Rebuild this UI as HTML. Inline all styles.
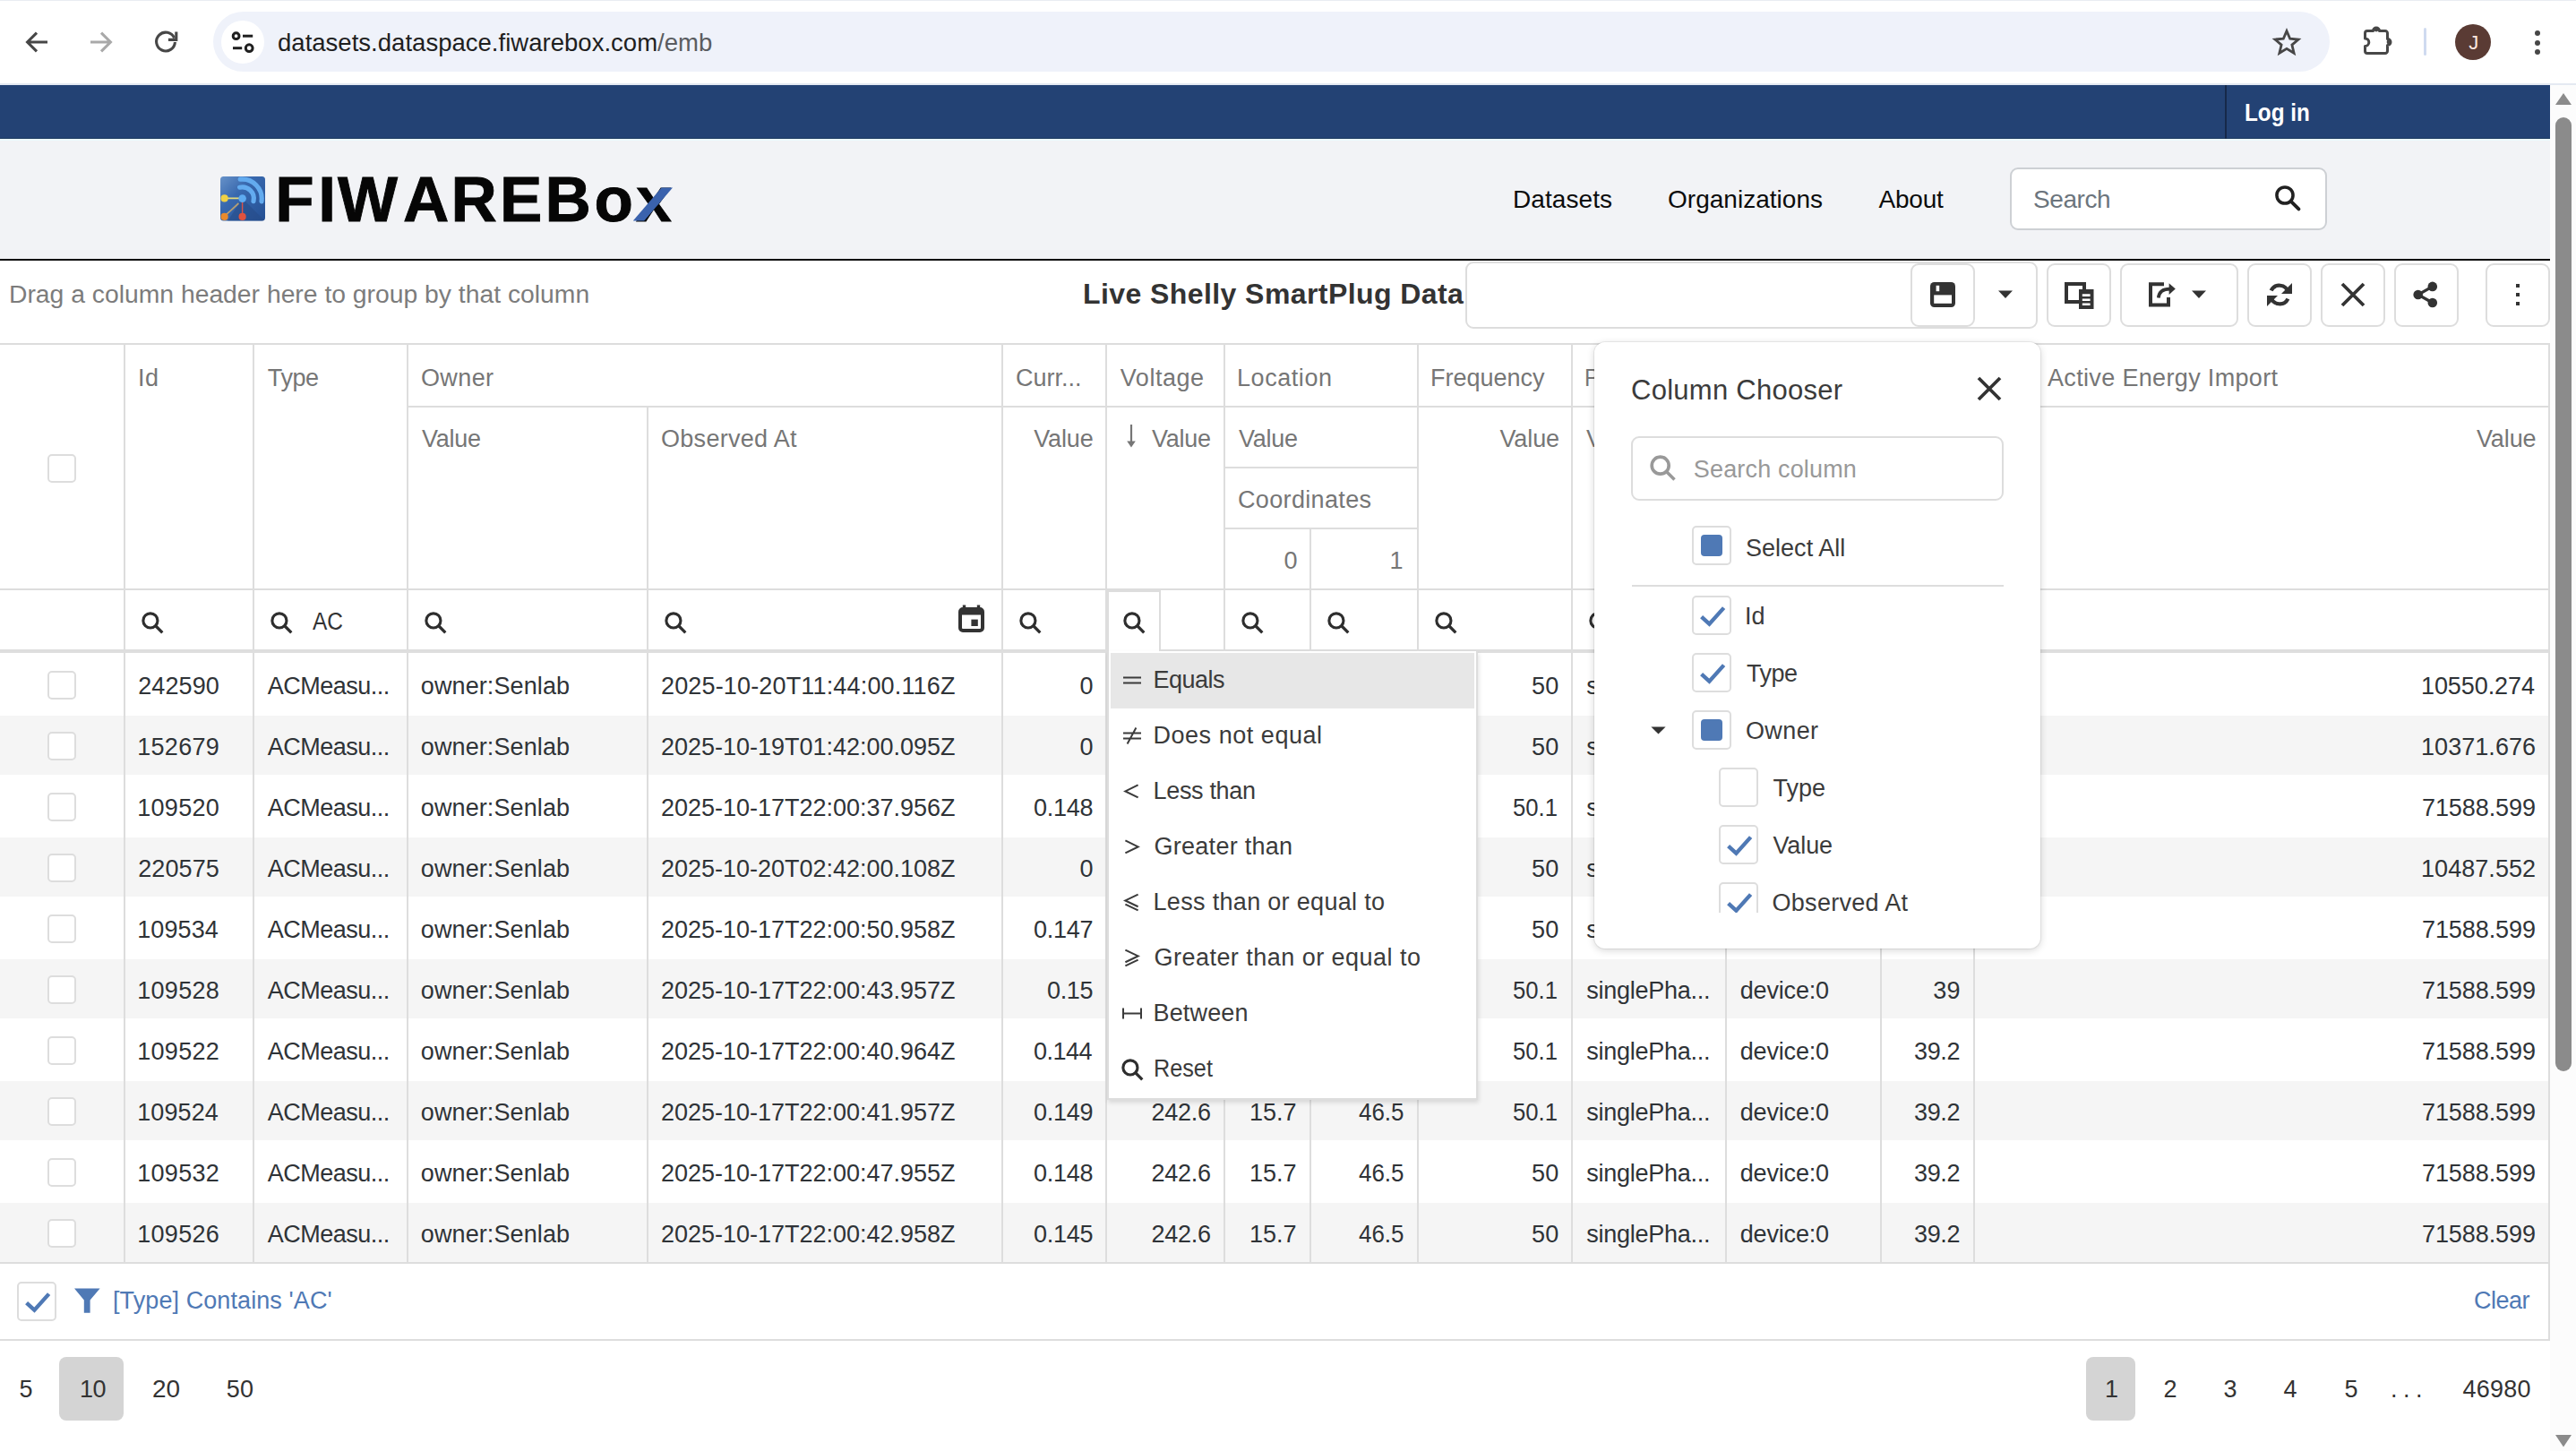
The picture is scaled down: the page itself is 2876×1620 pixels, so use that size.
<!DOCTYPE html>
<html lang="en">
<head>
<meta charset="utf-8">
<title>Live Shelly SmartPlug Data - FIWAREBox Datasets</title>
<style>
html,body{margin:0;padding:0;background:#fff;}
body{width:2876px;height:1620px;overflow:hidden;font-family:"Liberation Sans",sans-serif;}
#screen{position:relative;width:2876px;height:1620px;overflow:hidden;background:#fff;}
#screen div,#screen span,#screen a,#screen b,#screen h1,#screen svg,#screen nav,#screen header,#screen section,#screen label,#screen button,#screen li,#screen ul{position:absolute;box-sizing:border-box;margin:0;padding:0;}
.t{white-space:pre;font-weight:400;text-decoration:none;}
svg{overflow:visible;}
.btn{border:2px solid #ddd;border-radius:9px;background:#fff;}
.cb{border:2px solid #ddd;border-radius:5px;background:#fff;}
.vl{background:#ddd;width:2px;}
.hl{background:#ddd;height:2px;}

</style>
</head>
<body>
<div id="screen">
<!-- browser toolbar -->
<div style="left:0px;top:0px;width:2876px;height:95px;background:#fff;"></div>
<div style="left:0px;top:0px;width:2876px;height:1px;background:#e9ecf2;"></div>
<div style="left:0px;top:93px;width:2876px;height:2px;background:#e4e9f2;"></div>
<svg style="left:26px;top:32px" width="30" height="30" viewBox="0 0 30 30"><path d="M27 15H5.5M15 4.7L4.6 15L15 25.3" fill="none" stroke="#474747" stroke-width="3.1"/></svg>
<svg style="left:98px;top:32px" width="30" height="30" viewBox="0 0 30 30"><path d="M3 15H24.5M15 4.7L25.4 15L15 25.3" fill="none" stroke="#a9a9a9" stroke-width="3.1"/></svg>
<svg style="left:170px;top:32px" width="30" height="30" viewBox="0 0 30 30"><path d="M24.6 10.5A10.4 10.4 0 1 0 25.4 15" fill="none" stroke="#474747" stroke-width="3.1"/><path d="M26.8 3.5V12.4H17.9" fill="none" stroke="#474747" stroke-width="3.1"/></svg>
<div style="left:238px;top:13px;width:2363px;height:67px;background:#eff2fa;border-radius:34px;"></div>
<div style="left:247px;top:23px;width:48px;height:48px;background:#fff;border-radius:24px;"></div>
<svg style="left:255px;top:31px" width="32" height="32" viewBox="0 0 32 32"><g fill="none" stroke="#1f1f1f" stroke-width="3"><circle cx="8.6" cy="9.2" r="3.4"/><path d="M16 9.2H27.2"/><path d="M5 22.7H15.2"/><circle cx="23.2" cy="22.7" r="3.9"/></g></svg>
<span class="t" style="left:310.0px;top:34px;font-size:27.5px;line-height:27.5px;color:#1f1f1f;letter-spacing:0.02px;">datasets.dataspace.fiwarebox.com<span style="position:static;color:#5a5c60">/emb</span></span>
<svg style="left:2537px;top:31px" width="32" height="32" viewBox="0 0 32 32"><path d="M16 3.6l3.7 8.6 9.3.8-7.1 6.1 2.2 9.1L16 23.3 7.9 28.2l2.2-9.1L3 13l9.3-.8z" fill="none" stroke="#474747" stroke-width="2.8" stroke-linejoin="miter"/></svg>
<svg style="left:2637px;top:27px" width="36" height="36" viewBox="0 0 36 36"><path d="M6 7.5H12.5A3.5 3.5 0 0 1 19.5 7.5H26A2.5 2.5 0 0 1 28.5 10V16.5A3.5 3.5 0 0 1 28.5 23.5V30A2.5 2.5 0 0 1 26 32.5H6A2.5 2.5 0 0 1 3.5 30V24.5A4.3 4.3 0 0 0 3.5 15.9V10A2.5 2.5 0 0 1 6 7.5Z" fill="none" stroke="#474747" stroke-width="3" stroke-linejoin="round"/><circle cx="16" cy="6" r="2.4" fill="#474747"/><circle cx="30" cy="20" r="2.4" fill="#474747"/></svg>
<div style="left:2706px;top:31px;width:3px;height:31px;background:#cfdaf0;border-radius:2px;"></div>
<div style="left:2741px;top:27px;width:40px;height:40px;background:#5a3b34;border-radius:20px;"></div>
<span class="t" style="left:2756.3px;top:37px;font-size:22px;line-height:22px;color:#fbe6df;">J</span>
<div style="left:2830px;top:34px;width:6px;height:6px;background:#474747;border-radius:3px;"></div>
<div style="left:2830px;top:44.5px;width:6px;height:6px;background:#474747;border-radius:3px;"></div>
<div style="left:2830px;top:55px;width:6px;height:6px;background:#474747;border-radius:3px;"></div>
<!-- account bar -->
<header style="left:0;top:95px;width:2847px;height:60px;background:#234274;">
<div style="left:0px;top:58.5px;width:2847px;height:1.5px;background:#1c3a5f;"></div>
<div style="left:2484px;top:0px;width:2px;height:60px;background:#16294a;"></div>
<a class="t" style="left:2506.1px;top:17px;font-size:28px;line-height:28px;color:#fff;font-weight:700;transform:scaleX(0.8672);transform-origin:0 0;">Log in</a>
</header>
<!-- masthead -->
<nav style="left:0;top:155px;width:2847px;height:134px;background:#f2f3f6;">
<div style="left:0px;top:0px;width:2847px;height:1.5px;background:#ecfbfe;"></div>
<svg style="left:246px;top:42px" width="50" height="50" viewBox="0 0 50 50">
<defs><linearGradient id="lg" x1="0" y1="0" x2="1" y2="1"><stop offset="0" stop-color="#6792c9"/><stop offset=".38" stop-color="#3868ae"/><stop offset="1" stop-color="#244f93"/></linearGradient>
<clipPath id="lc"><rect width="50" height="49.5" rx="3.5"/></clipPath></defs>
<g clip-path="url(#lc)"><rect width="50" height="50" fill="url(#lg)"/>
<path d="M24.6 24.6L50 50H8Z" fill="#274a86" opacity=".55"/>
<path d="M21.6 12.2A12.8 12.8 0 0 1 37 27.6" fill="none" stroke="#63abef" stroke-width="5.2" stroke-linecap="round"/>
<path d="M22.2 3.2A21.8 21.8 0 0 1 46 27.8" fill="none" stroke="#63abef" stroke-width="5.2" stroke-linecap="round"/>
<path d="M4.3 24.4H22" stroke="#e6dc7c" stroke-width="1.7"/>
<path d="M4.3 44.7L20.4 30" stroke="#b79f73" stroke-width="1.7"/>
<path d="M24.6 28V44" stroke="#d9534a" stroke-width="1.4"/>
<circle cx="24.6" cy="24.6" r="4.3" fill="#5eaaf0"/>
<circle cx="4.6" cy="24.4" r="4.1" fill="#f0d145"/>
<circle cx="4.6" cy="44.9" r="4.1" fill="#e98a2c"/>
<circle cx="24.6" cy="44.9" r="4.1" fill="#e0523f"/></g></svg>
<svg style="left:300px;top:30px" width="470" height="80" viewBox="300 185 470 80">
<text x="307.2 355.3 377 450 503.5 558 608.5 663.6 710.2" y="246.6" font-family="Liberation Sans, sans-serif" font-weight="700" font-size="71" fill="#060606" stroke="#060606" stroke-width="0.9">FIWAREBox</text>
<path d="M706.8 246.6L738.6 209.4H751L719.2 246.6Z" fill="#3a62ad"/></svg>
<a class="t" style="left:1689.0px;top:54px;font-size:28px;line-height:28px;color:#0c0c0c;letter-spacing:0.07px;">Datasets</a>
<a class="t" style="left:1862.0px;top:54px;font-size:28px;line-height:28px;color:#0c0c0c;letter-spacing:0.02px;">Organizations</a>
<a class="t" style="left:2097.5px;top:54px;font-size:28px;line-height:28px;color:#0c0c0c;letter-spacing:-0.22px;">About</a>
<div style="left:2244px;top:32px;width:354px;height:70px;background:#fff;border:2px solid #cdd0d4;border-radius:9px;"></div>
<span class="t" style="left:2270.0px;top:54px;font-size:28px;line-height:28px;color:#6c757d;letter-spacing:-0.43px;">Search</span>
<svg style="left:2538px;top:50px" width="32" height="32" viewBox="0 0 36 36"><circle cx="14.6" cy="14.6" r="10.2" fill="none" stroke="#212121" stroke-width="4"/><path d="M22 22L32 32" stroke="#212121" stroke-width="4.4" stroke-linecap="round"/></svg>
</nav>
<div style="left:0px;top:289px;width:2847px;height:2px;background:#0a0a0a;"></div>
<div style="left:2847px;top:95px;width:29px;height:1525px;background:#fcfcfc;"></div>
<svg style="left:2847px;top:95px" width="29" height="1525" viewBox="0 0 29 1525"><path d="M6 22L15 9L24 22Z" fill="#8b8b8b"/><rect x="6" y="36" width="18" height="1065" rx="9" fill="#8b8b8b"/><path d="M6 1507L24 1507L15 1520.5Z" fill="#8b8b8b"/></svg>
<!-- grid toolbar -->
<section style="left:0;top:291px;width:2847px;height:92px;background:#fff;">
<span class="t" style="left:9.9px;top:25px;font-size:27px;line-height:27px;color:#7c7c7c;transform:scaleX(1.0482);transform-origin:0 0;">Drag a column header here to group by that column</span>
<h1 class="t" style="left:1209.0px;top:21px;font-size:32px;line-height:32px;color:#333;font-weight:700;letter-spacing:0.42px;">Live Shelly SmartPlug Data</h1>
<div style="left:1636px;top:1px;width:639px;height:75px;border:2px solid #ddd;border-radius:9px;background:#fff;"></div>
<div class="btn" style="left:2133px;top:3px;width:72px;height:71px;"></div>
<svg style="left:2155px;top:24px" width="28" height="28" viewBox="0 0 28 28"><rect x="0" y="0" width="28" height="28" rx="4.5" fill="#333"/><rect x="4.2" y="14.4" width="19.8" height="9.4" fill="#fff"/><rect x="6.6" y="3.8" width="3.6" height="6.4" fill="#fff"/></svg>
<svg style="left:2230px;top:33px" width="18" height="10" viewBox="0 0 18 10"><path d="M1 0.6H17L9 9Z" fill="#333"/></svg>
<div class="btn" style="left:2285px;top:3px;width:72px;height:71px;"></div>
<svg style="left:2305px;top:24px" width="33" height="31" viewBox="0 0 33 31"><path d="M2 2H22V22H2Z" fill="none" stroke="#333" stroke-width="4"/><rect x="16" y="8" width="16.5" height="22" fill="#333"/><path d="M19.8 14.6H28.6M19.8 19.7H28.6M19.8 24.8H28.6" stroke="#fff" stroke-width="2.6"/></svg>
<div class="btn" style="left:2367px;top:3px;width:132px;height:71px;"></div>
<svg style="left:2397px;top:24px" width="34" height="30" viewBox="0 0 34 30"><path d="M19 2.2H4V25.6H24V17" fill="none" stroke="#333" stroke-width="4"/><path d="M12.8 17.5C13.4 10.6 18.4 7.6 25.6 7.6" fill="none" stroke="#333" stroke-width="3.6"/><path d="M24.6 1.2L31.8 7.6L24.6 14Z" fill="#333"/></svg>
<svg style="left:2446px;top:33px" width="18" height="10" viewBox="0 0 18 10"><path d="M1 0.6H17L9 9Z" fill="#333"/></svg>
<div class="btn" style="left:2509px;top:3px;width:72px;height:71px;"></div>
<svg style="left:2531px;top:24px" width="28" height="28" viewBox="0 0 28 28"><path d="M23.6 11.2A10.2 10.2 0 0 0 4.6 9.4" fill="none" stroke="#333" stroke-width="4.2"/><path d="M4.4 16.8A10.2 10.2 0 0 0 23.4 18.6" fill="none" stroke="#333" stroke-width="4.2"/><path d="M28 1V13H16Z" fill="#333"/><path d="M0 27V15H12Z" fill="#333"/></svg>
<div class="btn" style="left:2591px;top:3px;width:72px;height:71px;"></div>
<svg style="left:2613px;top:24px" width="28" height="28" viewBox="0 0 28 28"><path d="M2 2L26 26M26 2L2 26" stroke="#333" stroke-width="3.8"/></svg>
<div class="btn" style="left:2673px;top:3px;width:72px;height:71px;"></div>
<svg style="left:2693px;top:23px" width="30" height="30" viewBox="0 0 30 30"><path d="M22.8 5.9L6.7 15L22.8 24" fill="none" stroke="#333" stroke-width="3.2"/><circle cx="22.8" cy="5.9" r="5.3" fill="#333"/><circle cx="6.7" cy="15" r="5.3" fill="#333"/><circle cx="22.8" cy="24" r="5.3" fill="#333"/></svg>
<div class="btn" style="left:2775px;top:3px;width:72px;height:71px;"></div>
<div style="left:2808.7px;top:25.9px;width:4.4px;height:4.4px;background:#333;"></div>
<div style="left:2808.7px;top:35.9px;width:4.4px;height:4.4px;background:#333;"></div>
<div style="left:2808.7px;top:45.9px;width:4.4px;height:4.4px;background:#333;"></div>
</section>
<!-- data grid -->
<section style="left:0;top:383px;width:2847px;height:1114px;background:#fff;">
<div style="left:0;top:0;width:2847px;height:346px;">
<div class="hl" style="left:0px;top:0px;width:2847px;height:2px;"></div>
<div class="hl" style="left:454px;top:70px;width:2393px;height:2px;"></div>
<div class="hl" style="left:1366px;top:138px;width:218px;height:2px;"></div>
<div class="hl" style="left:1366px;top:206px;width:218px;height:2px;"></div>
<div class="hl" style="left:0px;top:274px;width:2847px;height:2px;"></div>
<div style="left:0px;top:342px;width:2847px;height:4px;background:#dedede;"></div>
<div class="vl" style="left:138px;top:1px;width:2px;height:342px;"></div>
<div class="vl" style="left:282px;top:1px;width:2px;height:342px;"></div>
<div class="vl" style="left:454px;top:1px;width:2px;height:342px;"></div>
<div class="vl" style="left:722px;top:72px;width:2px;height:271px;"></div>
<div class="vl" style="left:1118px;top:1px;width:2px;height:342px;"></div>
<div class="vl" style="left:1234px;top:1px;width:2px;height:342px;"></div>
<div class="vl" style="left:1366px;top:1px;width:2px;height:342px;"></div>
<div class="vl" style="left:1462px;top:208px;width:2px;height:135px;"></div>
<div class="vl" style="left:1582px;top:1px;width:2px;height:342px;"></div>
<div class="vl" style="left:1754px;top:1px;width:2px;height:342px;"></div>
<div class="vl" style="left:1926px;top:1px;width:2px;height:342px;"></div>
<div class="vl" style="left:2099px;top:1px;width:2px;height:342px;"></div>
<div class="vl" style="left:2203px;top:1px;width:2px;height:342px;"></div>
<div class="vl" style="left:2845px;top:0px;width:2px;height:1114px;"></div>
<div class="cb" style="left:53px;top:124px;width:32px;height:32px;"></div>
<span class="t" style="left:154.0px;top:26px;font-size:27px;line-height:27px;color:#767676;letter-spacing:0.50px;">Id</span>
<span class="t" style="left:298.8px;top:26px;font-size:27px;line-height:27px;color:#767676;letter-spacing:-0.42px;">Type</span>
<span class="t" style="left:470.0px;top:26px;font-size:27px;line-height:27px;color:#767676;letter-spacing:0.37px;">Owner</span>
<span class="t" style="left:1134.0px;top:26px;font-size:27px;line-height:27px;color:#767676;">Curr...</span>
<span class="t" style="left:1250.8px;top:26px;font-size:27px;line-height:27px;color:#767676;letter-spacing:0.53px;">Voltage</span>
<span class="t" style="left:1381.0px;top:26px;font-size:27px;line-height:27px;color:#767676;letter-spacing:0.56px;">Location</span>
<span class="t" style="left:1597.0px;top:26px;font-size:27px;line-height:27px;color:#767676;letter-spacing:-0.01px;">Frequency</span>
<span class="t" style="left:1769.2px;top:26px;font-size:27px;line-height:27px;color:#767676;transform:scaleX(0.9171);transform-origin:0 0;">Phase Type</span>
<span class="t" style="left:2286.0px;top:26px;font-size:27px;line-height:27px;color:#767676;letter-spacing:0.34px;">Active Energy Import</span>
<span class="t" style="left:471.0px;top:94px;font-size:27px;line-height:27px;color:#767676;letter-spacing:-0.26px;">Value</span>
<span class="t" style="left:738.0px;top:94px;font-size:27px;line-height:27px;color:#767676;letter-spacing:0.29px;">Observed At</span>
<span class="t" style="left:1154.2px;top:94px;font-size:27px;line-height:27px;color:#767676;letter-spacing:-0.13px;">Value</span>
<svg style="left:1256px;top:90px" width="14" height="28" viewBox="0 0 14 28"><path d="M7 1V24" stroke="#767676" stroke-width="2.2"/><path d="M2.2 19.4L7 26.6L11.8 19.4Z" fill="#767676"/></svg>
<span class="t" style="left:1286.0px;top:94px;font-size:27px;line-height:27px;color:#767676;letter-spacing:-0.26px;">Value</span>
<span class="t" style="left:1383.0px;top:94px;font-size:27px;line-height:27px;color:#767676;letter-spacing:-0.26px;">Value</span>
<span class="t" style="left:1674.5px;top:94px;font-size:27px;line-height:27px;color:#767676;letter-spacing:-0.13px;">Value</span>
<span class="t" style="left:1771.0px;top:94px;font-size:27px;line-height:27px;color:#767676;letter-spacing:-0.13px;">Value</span>
<span class="t" style="left:2765.0px;top:94px;font-size:27px;line-height:27px;color:#767676;letter-spacing:-0.13px;">Value</span>
<span class="t" style="left:1382.0px;top:162px;font-size:27px;line-height:27px;color:#767676;letter-spacing:0.34px;">Coordinates</span>
<span class="t" style="left:1433.5px;top:230px;font-size:27px;line-height:27px;color:#767676;">0</span>
<span class="t" style="left:1551.5px;top:230px;font-size:27px;line-height:27px;color:#767676;">1</span>
<svg style="left:157.5px;top:299.5px" width="25" height="25" viewBox="0 0 25 25"><circle cx="9.9" cy="9.9" r="8.05" fill="none" stroke="#2e2e2e" stroke-width="3.1"/><path d="M15.5 15.5L23.3 23.3" stroke="#2e2e2e" stroke-width="3.3"/></svg>
<svg style="left:302px;top:299.5px" width="25" height="25" viewBox="0 0 25 25"><circle cx="9.9" cy="9.9" r="8.05" fill="none" stroke="#2e2e2e" stroke-width="3.1"/><path d="M15.5 15.5L23.3 23.3" stroke="#2e2e2e" stroke-width="3.3"/></svg>
<svg style="left:473.5px;top:299.5px" width="25" height="25" viewBox="0 0 25 25"><circle cx="9.9" cy="9.9" r="8.05" fill="none" stroke="#2e2e2e" stroke-width="3.1"/><path d="M15.5 15.5L23.3 23.3" stroke="#2e2e2e" stroke-width="3.3"/></svg>
<svg style="left:741.5px;top:299.5px" width="25" height="25" viewBox="0 0 25 25"><circle cx="9.9" cy="9.9" r="8.05" fill="none" stroke="#2e2e2e" stroke-width="3.1"/><path d="M15.5 15.5L23.3 23.3" stroke="#2e2e2e" stroke-width="3.3"/></svg>
<svg style="left:1137.5px;top:299.5px" width="25" height="25" viewBox="0 0 25 25"><circle cx="9.9" cy="9.9" r="8.05" fill="none" stroke="#2e2e2e" stroke-width="3.1"/><path d="M15.5 15.5L23.3 23.3" stroke="#2e2e2e" stroke-width="3.3"/></svg>
<svg style="left:1253.5px;top:299.5px" width="25" height="25" viewBox="0 0 25 25"><circle cx="9.9" cy="9.9" r="8.05" fill="none" stroke="#2e2e2e" stroke-width="3.1"/><path d="M15.5 15.5L23.3 23.3" stroke="#2e2e2e" stroke-width="3.3"/></svg>
<svg style="left:1385.5px;top:299.5px" width="25" height="25" viewBox="0 0 25 25"><circle cx="9.9" cy="9.9" r="8.05" fill="none" stroke="#2e2e2e" stroke-width="3.1"/><path d="M15.5 15.5L23.3 23.3" stroke="#2e2e2e" stroke-width="3.3"/></svg>
<svg style="left:1481.5px;top:299.5px" width="25" height="25" viewBox="0 0 25 25"><circle cx="9.9" cy="9.9" r="8.05" fill="none" stroke="#2e2e2e" stroke-width="3.1"/><path d="M15.5 15.5L23.3 23.3" stroke="#2e2e2e" stroke-width="3.3"/></svg>
<svg style="left:1601.5px;top:299.5px" width="25" height="25" viewBox="0 0 25 25"><circle cx="9.9" cy="9.9" r="8.05" fill="none" stroke="#2e2e2e" stroke-width="3.1"/><path d="M15.5 15.5L23.3 23.3" stroke="#2e2e2e" stroke-width="3.3"/></svg>
<svg style="left:1773.5px;top:299.5px" width="25" height="25" viewBox="0 0 25 25"><circle cx="9.9" cy="9.9" r="8.05" fill="none" stroke="#2e2e2e" stroke-width="3.1"/><path d="M15.5 15.5L23.3 23.3" stroke="#2e2e2e" stroke-width="3.3"/></svg>
<svg style="left:1945.5px;top:299.5px" width="25" height="25" viewBox="0 0 25 25"><circle cx="9.9" cy="9.9" r="8.05" fill="none" stroke="#2e2e2e" stroke-width="3.1"/><path d="M15.5 15.5L23.3 23.3" stroke="#2e2e2e" stroke-width="3.3"/></svg>
<svg style="left:2118.5px;top:299.5px" width="25" height="25" viewBox="0 0 25 25"><circle cx="9.9" cy="9.9" r="8.05" fill="none" stroke="#2e2e2e" stroke-width="3.1"/><path d="M15.5 15.5L23.3 23.3" stroke="#2e2e2e" stroke-width="3.3"/></svg>
<svg style="left:2222.5px;top:299.5px" width="25" height="25" viewBox="0 0 25 25"><circle cx="9.9" cy="9.9" r="8.05" fill="none" stroke="#2e2e2e" stroke-width="3.1"/><path d="M15.5 15.5L23.3 23.3" stroke="#2e2e2e" stroke-width="3.3"/></svg>
<span class="t" style="left:349.0px;top:298px;font-size:27px;line-height:27px;color:#333;transform:scaleX(0.9052);transform-origin:0 0;">AC</span>
<svg style="left:1070px;top:292px" width="29" height="31" viewBox="0 0 29 31"><path d="M6.5 0.6V5M22.5 0.6V5" stroke="#333" stroke-width="3.4"/><rect x="2" y="5" width="25" height="24" rx="3" fill="none" stroke="#333" stroke-width="4"/><rect x="2" y="4" width="25" height="7.5" fill="#333"/><rect x="14.4" y="16.6" width="7.4" height="7.4" fill="#333"/></svg>
</div>
<div style="left:0;top:346px;width:2847px;height:682px;">
<div style="left:0px;top:70px;width:2845px;height:66px;background:#f5f5f5;"></div>
<div style="left:0px;top:206px;width:2845px;height:66px;background:#f5f5f5;"></div>
<div style="left:0px;top:342px;width:2845px;height:66px;background:#f5f5f5;"></div>
<div style="left:0px;top:478px;width:2845px;height:66px;background:#f5f5f5;"></div>
<div style="left:0px;top:614px;width:2845px;height:66px;background:#f5f5f5;"></div>
<div class="vl" style="left:138px;top:0px;width:2px;height:680px;"></div>
<div class="vl" style="left:282px;top:0px;width:2px;height:680px;"></div>
<div class="vl" style="left:454px;top:0px;width:2px;height:680px;"></div>
<div class="vl" style="left:722px;top:0px;width:2px;height:680px;"></div>
<div class="vl" style="left:1118px;top:0px;width:2px;height:680px;"></div>
<div class="vl" style="left:1234px;top:0px;width:2px;height:680px;"></div>
<div class="vl" style="left:1366px;top:0px;width:2px;height:680px;"></div>
<div class="vl" style="left:1462px;top:0px;width:2px;height:680px;"></div>
<div class="vl" style="left:1582px;top:0px;width:2px;height:680px;"></div>
<div class="vl" style="left:1754px;top:0px;width:2px;height:680px;"></div>
<div class="vl" style="left:1926px;top:0px;width:2px;height:680px;"></div>
<div class="vl" style="left:2099px;top:0px;width:2px;height:680px;"></div>
<div class="vl" style="left:2203px;top:0px;width:2px;height:680px;"></div>
<div class="cb" style="left:53px;top:20px;width:32px;height:32px;"></div>
<span class="t" style="left:154.2px;top:24px;font-size:27px;line-height:27px;color:#2f3337;letter-spacing:0.12px;">242590</span>
<span class="t" style="left:298.8px;top:24px;font-size:27px;line-height:27px;color:#2f3337;letter-spacing:-0.51px;">ACMeasu...</span>
<span class="t" style="left:469.8px;top:24px;font-size:27px;line-height:27px;color:#2f3337;letter-spacing:0.10px;">owner:Senlab</span>
<span class="t" style="left:738.0px;top:24px;font-size:27px;line-height:27px;color:#2f3337;letter-spacing:0.16px;">2025-10-20T11:44:00.116Z</span>
<span class="t" style="left:1205.5px;top:24px;font-size:27px;line-height:27px;color:#2f3337;">0</span>
<span class="t" style="left:1285.4px;top:24px;font-size:27px;line-height:27px;color:#2f3337;letter-spacing:-0.24px;">240.9</span>
<span class="t" style="left:1395.0px;top:24px;font-size:27px;line-height:27px;color:#2f3337;letter-spacing:-0.01px;">15.7</span>
<span class="t" style="left:1517.1px;top:24px;font-size:27px;line-height:27px;color:#2f3337;transform:scaleX(0.9605);transform-origin:0 0;">46.5</span>
<span class="t" style="left:1710.0px;top:24px;font-size:27px;line-height:27px;color:#2f3337;letter-spacing:0.28px;">50</span>
<span class="t" style="left:1771.2px;top:24px;font-size:27px;line-height:27px;color:#2f3337;letter-spacing:-0.26px;">singlePha...</span>
<span class="t" style="left:1942.8px;top:24px;font-size:27px;line-height:27px;color:#2f3337;letter-spacing:-0.19px;">device:0</span>
<span class="t" style="left:2137.0px;top:24px;font-size:27px;line-height:27px;color:#2f3337;letter-spacing:-0.34px;">39.5</span>
<span class="t" style="left:2703.0px;top:24px;font-size:27px;line-height:27px;color:#2f3337;letter-spacing:-0.08px;">10550.274</span>
<div class="cb" style="left:53px;top:88px;width:32px;height:32px;"></div>
<span class="t" style="left:153.2px;top:92px;font-size:27px;line-height:27px;color:#2f3337;letter-spacing:0.32px;">152679</span>
<span class="t" style="left:298.8px;top:92px;font-size:27px;line-height:27px;color:#2f3337;letter-spacing:-0.51px;">ACMeasu...</span>
<span class="t" style="left:469.8px;top:92px;font-size:27px;line-height:27px;color:#2f3337;letter-spacing:0.10px;">owner:Senlab</span>
<span class="t" style="left:738.0px;top:92px;font-size:27px;line-height:27px;color:#2f3337;letter-spacing:-0.01px;">2025-10-19T01:42:00.095Z</span>
<span class="t" style="left:1205.5px;top:92px;font-size:27px;line-height:27px;color:#2f3337;">0</span>
<span class="t" style="left:1285.4px;top:92px;font-size:27px;line-height:27px;color:#2f3337;letter-spacing:-0.24px;">241.3</span>
<span class="t" style="left:1395.0px;top:92px;font-size:27px;line-height:27px;color:#2f3337;letter-spacing:-0.01px;">15.7</span>
<span class="t" style="left:1517.1px;top:92px;font-size:27px;line-height:27px;color:#2f3337;transform:scaleX(0.9605);transform-origin:0 0;">46.5</span>
<span class="t" style="left:1710.0px;top:92px;font-size:27px;line-height:27px;color:#2f3337;letter-spacing:0.28px;">50</span>
<span class="t" style="left:1771.2px;top:92px;font-size:27px;line-height:27px;color:#2f3337;letter-spacing:-0.26px;">singlePha...</span>
<span class="t" style="left:1942.8px;top:92px;font-size:27px;line-height:27px;color:#2f3337;letter-spacing:-0.19px;">device:0</span>
<span class="t" style="left:2137.0px;top:92px;font-size:27px;line-height:27px;color:#2f3337;transform:scaleX(0.9605);transform-origin:0 0;">39.4</span>
<span class="t" style="left:2703.0px;top:92px;font-size:27px;line-height:27px;color:#2f3337;letter-spacing:0.05px;">10371.676</span>
<div class="cb" style="left:53px;top:156px;width:32px;height:32px;"></div>
<span class="t" style="left:153.2px;top:160px;font-size:27px;line-height:27px;color:#2f3337;letter-spacing:0.32px;">109520</span>
<span class="t" style="left:298.8px;top:160px;font-size:27px;line-height:27px;color:#2f3337;letter-spacing:-0.51px;">ACMeasu...</span>
<span class="t" style="left:469.8px;top:160px;font-size:27px;line-height:27px;color:#2f3337;letter-spacing:0.10px;">owner:Senlab</span>
<span class="t" style="left:738.0px;top:160px;font-size:27px;line-height:27px;color:#2f3337;letter-spacing:-0.01px;">2025-10-17T22:00:37.956Z</span>
<span class="t" style="left:1153.9px;top:160px;font-size:27px;line-height:27px;color:#2f3337;letter-spacing:-0.24px;">0.148</span>
<span class="t" style="left:1285.4px;top:160px;font-size:27px;line-height:27px;color:#2f3337;letter-spacing:-0.24px;">242.6</span>
<span class="t" style="left:1395.0px;top:160px;font-size:27px;line-height:27px;color:#2f3337;letter-spacing:-0.01px;">15.7</span>
<span class="t" style="left:1517.1px;top:160px;font-size:27px;line-height:27px;color:#2f3337;transform:scaleX(0.9605);transform-origin:0 0;">46.5</span>
<span class="t" style="left:1689.1px;top:160px;font-size:27px;line-height:27px;color:#2f3337;transform:scaleX(0.9499);transform-origin:0 0;">50.1</span>
<span class="t" style="left:1771.2px;top:160px;font-size:27px;line-height:27px;color:#2f3337;letter-spacing:-0.26px;">singlePha...</span>
<span class="t" style="left:1942.8px;top:160px;font-size:27px;line-height:27px;color:#2f3337;letter-spacing:-0.19px;">device:0</span>
<span class="t" style="left:2137.0px;top:160px;font-size:27px;line-height:27px;color:#2f3337;letter-spacing:-0.34px;">39.2</span>
<span class="t" style="left:2704.0px;top:160px;font-size:27px;line-height:27px;color:#2f3337;letter-spacing:-0.08px;">71588.599</span>
<div class="cb" style="left:53px;top:224px;width:32px;height:32px;"></div>
<span class="t" style="left:154.2px;top:228px;font-size:27px;line-height:27px;color:#2f3337;letter-spacing:0.12px;">220575</span>
<span class="t" style="left:298.8px;top:228px;font-size:27px;line-height:27px;color:#2f3337;letter-spacing:-0.51px;">ACMeasu...</span>
<span class="t" style="left:469.8px;top:228px;font-size:27px;line-height:27px;color:#2f3337;letter-spacing:0.10px;">owner:Senlab</span>
<span class="t" style="left:738.0px;top:228px;font-size:27px;line-height:27px;color:#2f3337;letter-spacing:-0.01px;">2025-10-20T02:42:00.108Z</span>
<span class="t" style="left:1205.5px;top:228px;font-size:27px;line-height:27px;color:#2f3337;">0</span>
<span class="t" style="left:1285.4px;top:228px;font-size:27px;line-height:27px;color:#2f3337;letter-spacing:-0.24px;">242.6</span>
<span class="t" style="left:1395.0px;top:228px;font-size:27px;line-height:27px;color:#2f3337;letter-spacing:-0.01px;">15.7</span>
<span class="t" style="left:1517.1px;top:228px;font-size:27px;line-height:27px;color:#2f3337;transform:scaleX(0.9605);transform-origin:0 0;">46.5</span>
<span class="t" style="left:1710.0px;top:228px;font-size:27px;line-height:27px;color:#2f3337;letter-spacing:0.28px;">50</span>
<span class="t" style="left:1771.2px;top:228px;font-size:27px;line-height:27px;color:#2f3337;letter-spacing:-0.26px;">singlePha...</span>
<span class="t" style="left:1942.8px;top:228px;font-size:27px;line-height:27px;color:#2f3337;letter-spacing:-0.19px;">device:0</span>
<span class="t" style="left:2137.0px;top:228px;font-size:27px;line-height:27px;color:#2f3337;letter-spacing:-0.34px;">39.3</span>
<span class="t" style="left:2703.0px;top:228px;font-size:27px;line-height:27px;color:#2f3337;letter-spacing:0.05px;">10487.552</span>
<div class="cb" style="left:53px;top:292px;width:32px;height:32px;"></div>
<span class="t" style="left:153.2px;top:296px;font-size:27px;line-height:27px;color:#2f3337;letter-spacing:0.12px;">109534</span>
<span class="t" style="left:298.8px;top:296px;font-size:27px;line-height:27px;color:#2f3337;letter-spacing:-0.51px;">ACMeasu...</span>
<span class="t" style="left:469.8px;top:296px;font-size:27px;line-height:27px;color:#2f3337;letter-spacing:0.10px;">owner:Senlab</span>
<span class="t" style="left:738.0px;top:296px;font-size:27px;line-height:27px;color:#2f3337;letter-spacing:-0.01px;">2025-10-17T22:00:50.958Z</span>
<span class="t" style="left:1153.9px;top:296px;font-size:27px;line-height:27px;color:#2f3337;letter-spacing:-0.24px;">0.147</span>
<span class="t" style="left:1285.4px;top:296px;font-size:27px;line-height:27px;color:#2f3337;letter-spacing:-0.24px;">242.6</span>
<span class="t" style="left:1395.0px;top:296px;font-size:27px;line-height:27px;color:#2f3337;letter-spacing:-0.01px;">15.7</span>
<span class="t" style="left:1517.1px;top:296px;font-size:27px;line-height:27px;color:#2f3337;transform:scaleX(0.9605);transform-origin:0 0;">46.5</span>
<span class="t" style="left:1710.0px;top:296px;font-size:27px;line-height:27px;color:#2f3337;letter-spacing:0.28px;">50</span>
<span class="t" style="left:1771.2px;top:296px;font-size:27px;line-height:27px;color:#2f3337;letter-spacing:-0.26px;">singlePha...</span>
<span class="t" style="left:1942.8px;top:296px;font-size:27px;line-height:27px;color:#2f3337;letter-spacing:-0.19px;">device:0</span>
<span class="t" style="left:2137.0px;top:296px;font-size:27px;line-height:27px;color:#2f3337;letter-spacing:-0.34px;">39.2</span>
<span class="t" style="left:2704.0px;top:296px;font-size:27px;line-height:27px;color:#2f3337;letter-spacing:-0.08px;">71588.599</span>
<div class="cb" style="left:53px;top:360px;width:32px;height:32px;"></div>
<span class="t" style="left:153.2px;top:364px;font-size:27px;line-height:27px;color:#2f3337;letter-spacing:0.32px;">109528</span>
<span class="t" style="left:298.8px;top:364px;font-size:27px;line-height:27px;color:#2f3337;letter-spacing:-0.51px;">ACMeasu...</span>
<span class="t" style="left:469.8px;top:364px;font-size:27px;line-height:27px;color:#2f3337;letter-spacing:0.10px;">owner:Senlab</span>
<span class="t" style="left:738.0px;top:364px;font-size:27px;line-height:27px;color:#2f3337;letter-spacing:-0.01px;">2025-10-17T22:00:43.957Z</span>
<span class="t" style="left:1169.0px;top:364px;font-size:27px;line-height:27px;color:#2f3337;letter-spacing:-0.34px;">0.15</span>
<span class="t" style="left:1285.4px;top:364px;font-size:27px;line-height:27px;color:#2f3337;letter-spacing:-0.24px;">242.6</span>
<span class="t" style="left:1395.0px;top:364px;font-size:27px;line-height:27px;color:#2f3337;letter-spacing:-0.01px;">15.7</span>
<span class="t" style="left:1517.1px;top:364px;font-size:27px;line-height:27px;color:#2f3337;transform:scaleX(0.9605);transform-origin:0 0;">46.5</span>
<span class="t" style="left:1689.1px;top:364px;font-size:27px;line-height:27px;color:#2f3337;transform:scaleX(0.9499);transform-origin:0 0;">50.1</span>
<span class="t" style="left:1771.2px;top:364px;font-size:27px;line-height:27px;color:#2f3337;letter-spacing:-0.26px;">singlePha...</span>
<span class="t" style="left:1942.8px;top:364px;font-size:27px;line-height:27px;color:#2f3337;letter-spacing:-0.19px;">device:0</span>
<span class="t" style="left:2158.2px;top:364px;font-size:27px;line-height:27px;color:#2f3337;letter-spacing:0.28px;">39</span>
<span class="t" style="left:2704.0px;top:364px;font-size:27px;line-height:27px;color:#2f3337;letter-spacing:-0.08px;">71588.599</span>
<div class="cb" style="left:53px;top:428px;width:32px;height:32px;"></div>
<span class="t" style="left:153.2px;top:432px;font-size:27px;line-height:27px;color:#2f3337;letter-spacing:0.32px;">109522</span>
<span class="t" style="left:298.8px;top:432px;font-size:27px;line-height:27px;color:#2f3337;letter-spacing:-0.51px;">ACMeasu...</span>
<span class="t" style="left:469.8px;top:432px;font-size:27px;line-height:27px;color:#2f3337;letter-spacing:0.10px;">owner:Senlab</span>
<span class="t" style="left:738.0px;top:432px;font-size:27px;line-height:27px;color:#2f3337;letter-spacing:-0.01px;">2025-10-17T22:00:40.964Z</span>
<span class="t" style="left:1153.9px;top:432px;font-size:27px;line-height:27px;color:#2f3337;letter-spacing:-0.49px;">0.144</span>
<span class="t" style="left:1285.4px;top:432px;font-size:27px;line-height:27px;color:#2f3337;letter-spacing:-0.24px;">242.6</span>
<span class="t" style="left:1395.0px;top:432px;font-size:27px;line-height:27px;color:#2f3337;letter-spacing:-0.01px;">15.7</span>
<span class="t" style="left:1517.1px;top:432px;font-size:27px;line-height:27px;color:#2f3337;transform:scaleX(0.9605);transform-origin:0 0;">46.5</span>
<span class="t" style="left:1689.1px;top:432px;font-size:27px;line-height:27px;color:#2f3337;transform:scaleX(0.9499);transform-origin:0 0;">50.1</span>
<span class="t" style="left:1771.2px;top:432px;font-size:27px;line-height:27px;color:#2f3337;letter-spacing:-0.26px;">singlePha...</span>
<span class="t" style="left:1942.8px;top:432px;font-size:27px;line-height:27px;color:#2f3337;letter-spacing:-0.19px;">device:0</span>
<span class="t" style="left:2137.0px;top:432px;font-size:27px;line-height:27px;color:#2f3337;letter-spacing:-0.34px;">39.2</span>
<span class="t" style="left:2704.0px;top:432px;font-size:27px;line-height:27px;color:#2f3337;letter-spacing:-0.08px;">71588.599</span>
<div class="cb" style="left:53px;top:496px;width:32px;height:32px;"></div>
<span class="t" style="left:153.2px;top:500px;font-size:27px;line-height:27px;color:#2f3337;letter-spacing:0.12px;">109524</span>
<span class="t" style="left:298.8px;top:500px;font-size:27px;line-height:27px;color:#2f3337;letter-spacing:-0.51px;">ACMeasu...</span>
<span class="t" style="left:469.8px;top:500px;font-size:27px;line-height:27px;color:#2f3337;letter-spacing:0.10px;">owner:Senlab</span>
<span class="t" style="left:738.0px;top:500px;font-size:27px;line-height:27px;color:#2f3337;letter-spacing:-0.01px;">2025-10-17T22:00:41.957Z</span>
<span class="t" style="left:1153.9px;top:500px;font-size:27px;line-height:27px;color:#2f3337;letter-spacing:-0.24px;">0.149</span>
<span class="t" style="left:1285.4px;top:500px;font-size:27px;line-height:27px;color:#2f3337;letter-spacing:-0.24px;">242.6</span>
<span class="t" style="left:1395.0px;top:500px;font-size:27px;line-height:27px;color:#2f3337;letter-spacing:-0.01px;">15.7</span>
<span class="t" style="left:1517.1px;top:500px;font-size:27px;line-height:27px;color:#2f3337;transform:scaleX(0.9605);transform-origin:0 0;">46.5</span>
<span class="t" style="left:1689.1px;top:500px;font-size:27px;line-height:27px;color:#2f3337;transform:scaleX(0.9499);transform-origin:0 0;">50.1</span>
<span class="t" style="left:1771.2px;top:500px;font-size:27px;line-height:27px;color:#2f3337;letter-spacing:-0.26px;">singlePha...</span>
<span class="t" style="left:1942.8px;top:500px;font-size:27px;line-height:27px;color:#2f3337;letter-spacing:-0.19px;">device:0</span>
<span class="t" style="left:2137.0px;top:500px;font-size:27px;line-height:27px;color:#2f3337;letter-spacing:-0.34px;">39.2</span>
<span class="t" style="left:2704.0px;top:500px;font-size:27px;line-height:27px;color:#2f3337;letter-spacing:-0.08px;">71588.599</span>
<div class="cb" style="left:53px;top:564px;width:32px;height:32px;"></div>
<span class="t" style="left:153.2px;top:568px;font-size:27px;line-height:27px;color:#2f3337;letter-spacing:0.32px;">109532</span>
<span class="t" style="left:298.8px;top:568px;font-size:27px;line-height:27px;color:#2f3337;letter-spacing:-0.51px;">ACMeasu...</span>
<span class="t" style="left:469.8px;top:568px;font-size:27px;line-height:27px;color:#2f3337;letter-spacing:0.10px;">owner:Senlab</span>
<span class="t" style="left:738.0px;top:568px;font-size:27px;line-height:27px;color:#2f3337;letter-spacing:-0.01px;">2025-10-17T22:00:47.955Z</span>
<span class="t" style="left:1153.9px;top:568px;font-size:27px;line-height:27px;color:#2f3337;letter-spacing:-0.24px;">0.148</span>
<span class="t" style="left:1285.4px;top:568px;font-size:27px;line-height:27px;color:#2f3337;letter-spacing:-0.24px;">242.6</span>
<span class="t" style="left:1395.0px;top:568px;font-size:27px;line-height:27px;color:#2f3337;letter-spacing:-0.01px;">15.7</span>
<span class="t" style="left:1517.1px;top:568px;font-size:27px;line-height:27px;color:#2f3337;transform:scaleX(0.9605);transform-origin:0 0;">46.5</span>
<span class="t" style="left:1710.0px;top:568px;font-size:27px;line-height:27px;color:#2f3337;letter-spacing:0.28px;">50</span>
<span class="t" style="left:1771.2px;top:568px;font-size:27px;line-height:27px;color:#2f3337;letter-spacing:-0.26px;">singlePha...</span>
<span class="t" style="left:1942.8px;top:568px;font-size:27px;line-height:27px;color:#2f3337;letter-spacing:-0.19px;">device:0</span>
<span class="t" style="left:2137.0px;top:568px;font-size:27px;line-height:27px;color:#2f3337;letter-spacing:-0.34px;">39.2</span>
<span class="t" style="left:2704.0px;top:568px;font-size:27px;line-height:27px;color:#2f3337;letter-spacing:-0.08px;">71588.599</span>
<div class="cb" style="left:53px;top:632px;width:32px;height:32px;"></div>
<span class="t" style="left:153.2px;top:636px;font-size:27px;line-height:27px;color:#2f3337;letter-spacing:0.32px;">109526</span>
<span class="t" style="left:298.8px;top:636px;font-size:27px;line-height:27px;color:#2f3337;letter-spacing:-0.51px;">ACMeasu...</span>
<span class="t" style="left:469.8px;top:636px;font-size:27px;line-height:27px;color:#2f3337;letter-spacing:0.10px;">owner:Senlab</span>
<span class="t" style="left:738.0px;top:636px;font-size:27px;line-height:27px;color:#2f3337;letter-spacing:-0.01px;">2025-10-17T22:00:42.958Z</span>
<span class="t" style="left:1153.9px;top:636px;font-size:27px;line-height:27px;color:#2f3337;letter-spacing:-0.24px;">0.145</span>
<span class="t" style="left:1285.4px;top:636px;font-size:27px;line-height:27px;color:#2f3337;letter-spacing:-0.24px;">242.6</span>
<span class="t" style="left:1395.0px;top:636px;font-size:27px;line-height:27px;color:#2f3337;letter-spacing:-0.01px;">15.7</span>
<span class="t" style="left:1517.1px;top:636px;font-size:27px;line-height:27px;color:#2f3337;transform:scaleX(0.9605);transform-origin:0 0;">46.5</span>
<span class="t" style="left:1710.0px;top:636px;font-size:27px;line-height:27px;color:#2f3337;letter-spacing:0.28px;">50</span>
<span class="t" style="left:1771.2px;top:636px;font-size:27px;line-height:27px;color:#2f3337;letter-spacing:-0.26px;">singlePha...</span>
<span class="t" style="left:1942.8px;top:636px;font-size:27px;line-height:27px;color:#2f3337;letter-spacing:-0.19px;">device:0</span>
<span class="t" style="left:2137.0px;top:636px;font-size:27px;line-height:27px;color:#2f3337;letter-spacing:-0.34px;">39.2</span>
<span class="t" style="left:2704.0px;top:636px;font-size:27px;line-height:27px;color:#2f3337;letter-spacing:-0.08px;">71588.599</span>
</div>
<div class="hl" style="left:0px;top:1026px;width:2847px;height:2px;"></div>
<div style="left:0;top:1028px;width:2845px;height:84px;">
<div class="cb" style="left:19px;top:20px;width:44px;height:44px;"></div>
<svg style="left:27px;top:31px" width="30" height="24" viewBox="0 0 30 24"><path d="M2.6 12.6L11.4 20.6L27.6 2.6" fill="none" stroke="#4f79b5" stroke-width="4.4"/></svg>
<svg style="left:83px;top:27px" width="29" height="29" viewBox="0 0 29 29"><path d="M0 0.6H28.6L17.6 13.4V27.8H10.8V13.4Z" fill="#4f79b5"/></svg>
<span class="t" style="left:126.0px;top:28px;font-size:27px;line-height:27px;color:#4f79b5;letter-spacing:0.09px;">[Type] Contains 'AC'</span>
<span class="t" style="left:2762.0px;top:28px;font-size:27px;line-height:27px;color:#4f79b5;letter-spacing:-0.51px;">Clear</span>
</div>
<div class="hl" style="left:0px;top:1112px;width:2847px;height:2px;"></div>
</section>
<!-- pager -->
<section style="left:0;top:1497px;width:2847px;height:123px;background:#fff;">
<div style="left:66px;top:18px;width:72px;height:71px;background:#d4d4d4;border-radius:8px;"></div>
<span class="t" style="left:21.5px;top:41px;font-size:27px;line-height:27px;color:#333;">5</span>
<span class="t" style="left:89.0px;top:41px;font-size:27px;line-height:27px;color:#333;letter-spacing:-0.52px;">10</span>
<span class="t" style="left:170.0px;top:41px;font-size:27px;line-height:27px;color:#333;transform:scaleX(1.0351);transform-origin:0 0;">20</span>
<span class="t" style="left:252.8px;top:41px;font-size:27px;line-height:27px;color:#333;letter-spacing:0.23px;">50</span>
<div style="left:2329px;top:18px;width:55px;height:71px;background:#d4d4d4;border-radius:8px;"></div>
<span class="t" style="left:2350.0px;top:41px;font-size:27px;line-height:27px;color:#333;">1</span>
<span class="t" style="left:2415.5px;top:41px;font-size:27px;line-height:27px;color:#333;">2</span>
<span class="t" style="left:2482.5px;top:41px;font-size:27px;line-height:27px;color:#333;">3</span>
<span class="t" style="left:2549.5px;top:41px;font-size:27px;line-height:27px;color:#333;">4</span>
<span class="t" style="left:2617.5px;top:41px;font-size:27px;line-height:27px;color:#333;">5</span>
<span class="t" style="left:2669.0px;top:41px;font-size:27px;line-height:27px;color:#333;letter-spacing:-0.50px;">. . .</span>
<span class="t" style="left:2749.5px;top:41px;font-size:27px;line-height:27px;color:#333;letter-spacing:0.23px;">46980</span>
</section>
<!-- filter operations menu -->
<div style="left:1236px;top:659px;width:60px;height:69px;background:#fff;border:solid #ddd;border-width:2px 2px 0 2px;"></div>
<svg style="left:1253.5px;top:682.5px" width="25" height="25" viewBox="0 0 25 25"><circle cx="9.9" cy="9.9" r="8.05" fill="none" stroke="#2e2e2e" stroke-width="3.1"/><path d="M15.5 15.5L23.3 23.3" stroke="#2e2e2e" stroke-width="3.3"/></svg>
<ul style="left:1236px;top:727px;width:414px;height:500.5px;background:#fff;border:solid #ddd;border-width:0 2px 2px 2px;box-shadow:1px 3px 5px rgba(0,0,0,.12);list-style:none;">
<div style="left:2px;top:2px;width:406px;height:61.5px;background:#e7e7e7;"></div>
<li style="left:2px;top:2px;width:406px;height:62px;">
<svg style="left:13px;top:20px" width="22" height="21" viewBox="0 0 22 21"><path d="M1 7.4H21M1 13.4H21" stroke="#3b3b3b" stroke-width="2"/></svg>
<span class="t" style="left:47.5px;top:17px;font-size:27px;line-height:27px;color:#3b3b3b;letter-spacing:-0.51px;">Equals</span>
</li>
<li style="left:2px;top:64px;width:406px;height:62px;">
<svg style="left:13px;top:20px" width="22" height="21" viewBox="0 0 22 21"><path d="M1 7.4H21M1 13.4H21M15.4 1.6L5.6 19.6" stroke="#3b3b3b" stroke-width="2"/></svg>
<span class="t" style="left:47.5px;top:17px;font-size:27px;line-height:27px;color:#3b3b3b;letter-spacing:0.53px;">Does not equal</span>
</li>
<li style="left:2px;top:126px;width:406px;height:62px;">
<svg style="left:13px;top:20px" width="22" height="21" viewBox="0 0 22 21"><path d="M17.6 3.4L3.4 10.4L17.6 17.4" fill="none" stroke="#3b3b3b" stroke-width="2.1"/></svg>
<span class="t" style="left:47.5px;top:17px;font-size:27px;line-height:27px;color:#3b3b3b;letter-spacing:-0.32px;">Less than</span>
</li>
<li style="left:2px;top:188px;width:406px;height:62px;">
<svg style="left:13px;top:20px" width="22" height="21" viewBox="0 0 22 21"><path d="M3.4 3.4L17.6 10.4L3.4 17.4" fill="none" stroke="#3b3b3b" stroke-width="2.1"/></svg>
<span class="t" style="left:48.5px;top:17px;font-size:27px;line-height:27px;color:#3b3b3b;letter-spacing:0.27px;">Greater than</span>
</li>
<li style="left:2px;top:250px;width:406px;height:62px;">
<svg style="left:13px;top:20px" width="22" height="21" viewBox="0 0 22 21"><path d="M17.6 1.6L3.4 8.4L17.6 15.2M3.4 12.6L17.6 19.4" fill="none" stroke="#3b3b3b" stroke-width="2.1"/></svg>
<span class="t" style="left:47.5px;top:17px;font-size:27px;line-height:27px;color:#3b3b3b;letter-spacing:0.32px;">Less than or equal to</span>
</li>
<li style="left:2px;top:312px;width:406px;height:62px;">
<svg style="left:13px;top:20px" width="22" height="21" viewBox="0 0 22 21"><path d="M3.4 1.6L17.6 8.4L3.4 15.2M17.6 12.6L3.4 19.4" fill="none" stroke="#3b3b3b" stroke-width="2.1"/></svg>
<span class="t" style="left:48.5px;top:17px;font-size:27px;line-height:27px;color:#3b3b3b;letter-spacing:0.47px;">Greater than or equal to</span>
</li>
<li style="left:2px;top:374px;width:406px;height:62px;">
<svg style="left:13px;top:20px" width="22" height="21" viewBox="0 0 22 21"><path d="M1 4.4V16.4M21 4.4V16.4M1 10.4H21" stroke="#3b3b3b" stroke-width="2"/></svg>
<span class="t" style="left:47.5px;top:17px;font-size:27px;line-height:27px;color:#3b3b3b;letter-spacing:0.16px;">Between</span>
</li>
<li style="left:2px;top:436px;width:406px;height:62px;">
<svg style="left:12px;top:18.5px" width="25" height="25" viewBox="0 0 25 25"><circle cx="9.9" cy="9.9" r="8.05" fill="none" stroke="#2e2e2e" stroke-width="3.1"/><path d="M15.5 15.5L23.3 23.3" stroke="#2e2e2e" stroke-width="3.3"/></svg>
<span class="t" style="left:47.6px;top:17px;font-size:27px;line-height:27px;color:#3b3b3b;transform:scaleX(0.9344);transform-origin:0 0;">Reset</span>
</li>
</ul>
<!-- column chooser -->
<section style="left:1780px;top:382px;width:498px;height:677px;background:#fff;border-radius:12px;box-shadow:0 0 0 1px rgba(0,0,0,.06),0 2px 9px rgba(0,0,0,.17);">
<h1 class="t" style="left:41.0px;top:38px;font-size:31px;line-height:31px;color:#3b3b3b;letter-spacing:0.27px;">Column Chooser</h1>
<svg style="left:427px;top:38px" width="28" height="28" viewBox="0 0 28 28"><path d="M2 2L26 26M26 2L2 26" stroke="#333" stroke-width="3.8"/></svg>
<div style="left:41px;top:105px;width:416px;height:72px;border:2px solid #ddd;border-radius:9px;background:#fff;"></div>
<svg style="left:62px;top:126px" width="29.5" height="29.5" viewBox="0 0 25 25"><circle cx="9.9" cy="9.9" r="8.05" fill="none" stroke="#999" stroke-width="3.1"/><path d="M15.5 15.5L23.3 23.3" stroke="#999" stroke-width="3"/></svg>
<span class="t" style="left:110.8px;top:129px;font-size:27px;line-height:27px;color:#999;letter-spacing:0.16px;">Search column</span>
<div class="cb" style="left:109px;top:205px;width:44px;height:44px;"></div>
<div style="left:119px;top:215px;width:24px;height:24px;background:#4f79b5;border-radius:4px;"></div>
<span class="t" style="left:169.0px;top:217px;font-size:27px;line-height:27px;color:#3b3b3b;letter-spacing:0.02px;">Select All</span>
<div class="hl" style="left:42px;top:271px;width:415px;height:2px;"></div>
<ul style="left:0;top:273px;width:498px;height:364px;overflow:hidden;list-style:none;">
<li style="left:0;top:0px;width:498px;height:64px;">
<div class="cb" style="left:109px;top:10.200000000000045px;width:44px;height:44px;"></div>
<svg style="left:116.5px;top:21px" width="30" height="24" viewBox="0 0 30 24"><path d="M2.6 12.6L11.4 20.6L27.6 2.6" fill="none" stroke="#4f79b5" stroke-width="4.4"/></svg>
<span class="t" style="left:168.0px;top:20px;font-size:27px;line-height:27px;color:#3b3b3b;">Id</span>
</li>
<li style="left:0;top:64px;width:498px;height:64px;">
<div class="cb" style="left:109px;top:10.200000000000045px;width:44px;height:44px;"></div>
<svg style="left:116.5px;top:21px" width="30" height="24" viewBox="0 0 30 24"><path d="M2.6 12.6L11.4 20.6L27.6 2.6" fill="none" stroke="#4f79b5" stroke-width="4.4"/></svg>
<span class="t" style="left:170.0px;top:20px;font-size:27px;line-height:27px;color:#3b3b3b;letter-spacing:-0.51px;">Type</span>
</li>
<li style="left:0;top:128px;width:498px;height:64px;">
<div class="cb" style="left:109px;top:10.200000000000045px;width:44px;height:44px;"></div>
<div style="left:119px;top:20.200000000000045px;width:24px;height:24px;background:#4f79b5;border-radius:4px;"></div>
<svg style="left:62.5px;top:28px" width="17" height="9" viewBox="0 0 17 9"><path d="M0.4 0.4H16.6L8.5 8.6Z" fill="#333"/></svg>
<span class="t" style="left:169.0px;top:20px;font-size:27px;line-height:27px;color:#3b3b3b;letter-spacing:0.37px;">Owner</span>
</li>
<li style="left:0;top:192px;width:498px;height:64px;">
<div class="cb" style="left:139px;top:10.200000000000045px;width:44px;height:44px;"></div>
<span class="t" style="left:199.5px;top:20px;font-size:27px;line-height:27px;color:#3b3b3b;">Type</span>
</li>
<li style="left:0;top:256px;width:498px;height:64px;">
<div class="cb" style="left:139px;top:10.200000000000045px;width:44px;height:44px;"></div>
<svg style="left:146.5px;top:21px" width="30" height="24" viewBox="0 0 30 24"><path d="M2.6 12.6L11.4 20.6L27.6 2.6" fill="none" stroke="#4f79b5" stroke-width="4.4"/></svg>
<span class="t" style="left:199.5px;top:20px;font-size:27px;line-height:27px;color:#3b3b3b;letter-spacing:-0.13px;">Value</span>
</li>
<li style="left:0;top:320px;width:498px;height:64px;">
<div class="cb" style="left:139px;top:10.200000000000045px;width:44px;height:44px;"></div>
<svg style="left:146.5px;top:21px" width="30" height="24" viewBox="0 0 30 24"><path d="M2.6 12.6L11.4 20.6L27.6 2.6" fill="none" stroke="#4f79b5" stroke-width="4.4"/></svg>
<span class="t" style="left:198.5px;top:20px;font-size:27px;line-height:27px;color:#3b3b3b;letter-spacing:0.29px;">Observed At</span>
</li>
</ul>
</section>
</div>
</body>
</html>
